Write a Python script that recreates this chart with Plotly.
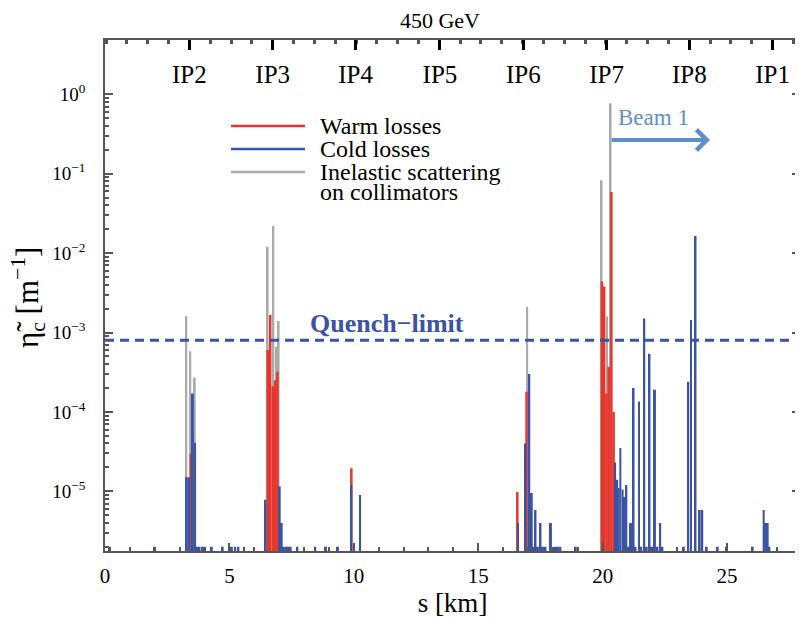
import plotly.graph_objects as go

# ---------------- data ----------------
X_MAX = 27.93
Y_LOG_RANGE = [-5.752, 0.684]

# Inelastic scattering on collimators (grey)
gray_s = [3.27, 3.43, 3.61, 6.54, 6.77, 6.87, 6.98, 16.97, 19.96, 20.18, 20.32]
gray_v = [1.6e-3, 5.8e-4, 2.7e-4, 1.2e-2, 2.2e-2, 6.6e-4, 1.4e-3, 2.1e-3, 8.3e-2, 1.6e-3, 0.77]

# Warm losses (red)
red_s = [3.45, 6.54, 6.64, 6.74, 6.84, 6.93, 9.9, 16.57, 16.94,
         19.97, 20.06, 20.15, 20.24, 20.35, 20.44]
red_v = [3.0e-5, 6.0e-4, 1.66e-3, 2.1e-4, 2.5e-4, 3.2e-4, 1.95e-5, 9.8e-6, 1.8e-4,
         4.4e-3, 3.8e-3, 1.7e-4, 3.7e-4, 5.9e-2, 1.0e-4]

# Cold losses (blue)
blue_s = [0.2, 1.98,
          3.29, 3.38, 3.53, 3.62, 3.71, 3.8, 3.9, 4.0, 4.29, 4.73, 5.1, 5.23, 5.36, 5.59,
          6.45, 7.02, 7.1, 7.19, 7.28, 7.37, 7.46, 7.73, 8.45, 8.88, 9.36,
          9.9, 10.25,
          16.6, 16.9, 17.05, 17.15, 17.22, 17.3, 17.4, 17.5, 17.6, 17.7, 17.92,
          18.1, 18.2, 18.3, 18.92,
          20.5, 20.58, 20.64, 20.71, 20.8, 20.88, 20.95, 21.03, 21.1, 21.17, 21.24,
          21.32, 21.46, 21.55, 21.67, 21.77, 21.88, 21.97, 22.1, 22.2, 22.31, 22.4,
          23.26, 23.44, 23.55, 23.73, 23.9, 24.0, 24.18, 24.62, 24.98,
          26.03, 26.47, 26.55, 26.63, 26.7]
blue_v = [2e-6, 2e-6,
          1.5e-5, 1.5e-5, 1.7e-4, 4.1e-5, 2e-6, 2e-6, 2e-6, 2e-6, 2e-6, 2e-6, 2e-6, 2e-6, 2e-6, 2e-6,
          7.8e-6, 1.15e-5, 4e-6, 2e-6, 2e-6, 2e-6, 2e-6, 2e-6, 2e-6, 2e-6, 2e-6,
          1.2e-5, 9e-6,
          4e-6, 4e-5, 3e-4, 9.5e-6, 2e-6, 5.8e-6, 2e-6, 4e-6, 2e-6, 2e-6, 4e-6,
          2e-6, 2e-6, 2e-6, 2e-6,
          2.3e-5, 1.4e-5, 1.1e-5, 3.5e-5, 1.05e-5, 8.5e-6, 1.2e-5, 2e-6, 4e-6, 4e-6, 2e-4,
          2e-6, 1.35e-4, 2e-6, 1.5e-3, 2e-6, 5.4e-4, 2e-6, 1.9e-4, 2e-6, 4e-6, 2e-6,
          2e-6, 2.4e-4, 1.44e-3, 1.64e-2, 5.8e-6, 5.8e-6, 2e-6, 2e-6, 2e-6,
          2e-6, 5.8e-6, 4e-6, 4e-6, 2e-6]

quench_limit = 8.0e-4

ip_s = [3.39, 6.74, 10.07, 13.46, 16.81, 20.16, 23.48, 26.83]
ip_labels = ["IP2", "IP3", "IP4", "IP5", "IP6", "IP7", "IP8", "IP1"]

x_ticks = [0, 5, 10, 15, 20, 25]
y_ticks = [1e-5, 1e-4, 1e-3, 1e-2, 1e-1, 1e0]
y_ticktext = ["10<sup>−5</sup>", "10<sup>−4</sup>", "10<sup>−3</sup>",
              "10<sup>−2</sup>", "10<sup>−1</sup>", "10<sup>0</sup>"]

legend_labels = ["Warm losses", "Cold losses", "Inelastic scattering", "on collimators"]

# ---------------- style ----------------
RED = "#E8352B"
BLUE = "#3A53A4"
GRAY = "#AAAAAA"
BEAM = "#5E8FCB"
AXC = "#555555"
FONT = "Liberation Serif"

# the page body has an 8px default margin: the figure is shifted accordingly
OFF = 8
W, H = 803 - OFF, 619 - OFF
PL, PT, PR, PB = 105, 40, 800, 551   # plot area in page pixels

fig = go.Figure()
fig.add_trace(go.Bar(x=gray_s, y=gray_v, width=0.07, name="Inelastic scattering on collimators",
                     marker=dict(color=GRAY, line=dict(width=0)), showlegend=False))
fig.add_trace(go.Bar(x=red_s, y=red_v, width=0.1, name="Warm losses",
                     marker=dict(color=RED, line=dict(width=0)), showlegend=False))
fig.add_trace(go.Bar(x=blue_s, y=blue_v, width=0.08, name="Cold losses",
                     marker=dict(color=BLUE, line=dict(width=0)), showlegend=False))
fig.add_trace(go.Scatter(x=[0, X_MAX], y=[quench_limit, quench_limit], mode="lines",
                         line=dict(color=BLUE, width=3, dash="9px,6px"),
                         showlegend=False, hoverinfo="skip"))
# invisible trace to activate the top (IP) axis
fig.add_trace(go.Scatter(x=[ip_s[0]], y=[1e-3], xaxis="x2", mode="markers",
                         marker=dict(opacity=0), showlegend=False, hoverinfo="skip"))

# top minor ticks: quarters between IPs
top_minor = []
step = (ip_s[-1] - ip_s[0]) / (len(ip_s) - 1) / 4
v = ip_s[0] - 4 * step
while v < X_MAX:
    if v > 0:
        top_minor.append(v)
    v += step

y_minor = [m * 10 ** e for e in range(-6, 1) for m in range(2, 10)]

fig.update_layout(
    width=W, height=H,
    margin=dict(l=PL - OFF, r=W - (PR - OFF), t=PT - OFF, b=H - (PB - OFF), autoexpand=False),
    paper_bgcolor="white", plot_bgcolor="white",
    barmode="overlay",
    font=dict(family=FONT, color="black"),
    title=dict(text="450 GeV", x=0.482, xref="paper", xanchor="center",
               y=1 - 12 / H, yref="container", yanchor="middle",
               font=dict(family=FONT, size=22, color="black")),
    xaxis=dict(range=[0, X_MAX], tickvals=x_ticks, ticks="inside", ticklen=8, tickwidth=1.5,
               tickcolor=AXC, showline=True, linecolor=AXC, linewidth=1.5,
               showgrid=False, zeroline=False,
               minor=dict(ticks="inside", ticklen=4, dtick=1, tick0=0, tickcolor=AXC, showgrid=False),
               tickfont=dict(family=FONT, size=21, color="black"),
               ticklabelstandoff=5,
               title=dict(text="s [km]", font=dict(family=FONT, size=27, color="black"), standoff=4)),
    xaxis2=dict(range=[0, X_MAX], overlaying="x", side="top", tickvals=ip_s, ticktext=ip_labels,
                ticks="inside", ticklen=10, tickwidth=3, tickcolor="black",
                showline=True, linecolor=AXC, linewidth=1.5, showgrid=False, zeroline=False,
                ticklabelposition="inside", ticklabelstandoff=18,
                minor=dict(ticks="inside", ticklen=4, tickvals=top_minor, tickcolor=AXC, showgrid=False),
                tickfont=dict(family=FONT, size=25, color="black")),
    yaxis=dict(type="log", range=Y_LOG_RANGE, tickvals=y_ticks, ticktext=y_ticktext,
               ticks="inside", ticklen=8, tickwidth=1.5, tickcolor=AXC,
               showline=True, linecolor=AXC, linewidth=1.5, mirror="ticks",
               showgrid=False, zeroline=False,
               minor=dict(ticks="inside", ticklen=4, tickvals=y_minor, tickcolor=AXC, showgrid=False),
               tickfont=dict(family=FONT, size=19, color="black"),
               ticklabelstandoff=14),
)

# helpers: page pixels -> paper coordinates
def px2paper_x(px):
    return (px - PL) / float(PR - PL)

def py2paper_y(py):
    return (PB - py) / float(PB - PT)

# y-axis title placed as a rotated annotation
fig.add_annotation(text="η̃<sub>c</sub> [m<sup>−1</sup>]", xref="paper", yref="paper",
                   x=px2paper_x(28), y=py2paper_y(298), xanchor="center", yanchor="middle",
                   textangle=-90, showarrow=False,
                   font=dict(family=FONT, size=31, color="black"))

# manual legend (line samples + text)
for color, py in [(RED, 126), (BLUE, 149), (GRAY, 172)]:
    fig.add_shape(type="line", xref="paper", yref="paper",
                  x0=px2paper_x(231), x1=px2paper_x(305), y0=py2paper_y(py), y1=py2paper_y(py),
                  line=dict(color=color, width=2.5))
for label, py in zip(legend_labels, [126, 149, 172, 192]):
    fig.add_annotation(text=label, xref="paper", yref="paper", x=px2paper_x(318), y=py2paper_y(py),
                       xanchor="left", yanchor="middle", showarrow=False,
                       font=dict(family=FONT, size=24, color="black"))

# Quench-limit label
fig.add_annotation(text="<b>Quench−limit</b>", xref="paper", yref="paper",
                   x=px2paper_x(387), y=py2paper_y(323), xanchor="center", yanchor="middle",
                   showarrow=False, font=dict(family=FONT, size=26, color=BLUE))

# Beam 1 label and arrow
fig.add_annotation(text="Beam 1", xref="paper", yref="paper", x=px2paper_x(616), y=py2paper_y(117),
                   xanchor="left", yanchor="middle", showarrow=False,
                   font=dict(family=FONT, size=23, color=BEAM))
fig.add_annotation(text="", xref="paper", yref="paper", x=px2paper_x(710), y=py2paper_y(140),
                   axref="pixel", ayref="pixel", ax=-100, ay=0, showarrow=True,
                   arrowhead=4, arrowsize=1.0, arrowwidth=4, arrowcolor=BEAM, standoff=0)

fig.write_html("out.html")
